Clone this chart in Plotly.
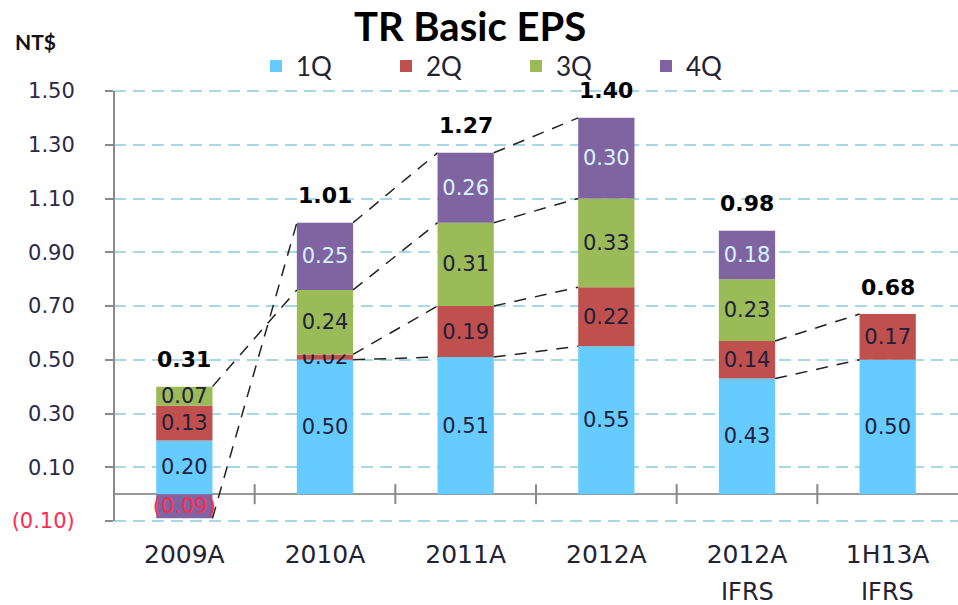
import plotly.graph_objects as go

# ---------------- data ----------------
CATEGORIES = ["2009A", "2010A", "2011A", "2012A", "2012A", "1H13A"]
SUBLABELS = ["", "", "", "", "IFRS", "IFRS"]
QUARTERS = ["1Q", "2Q", "3Q", "4Q"]
Q1 = [0.20, 0.50, 0.51, 0.55, 0.43, 0.50]
Q2 = [0.13, 0.02, 0.19, 0.22, 0.14, 0.17]
Q3 = [0.07, 0.24, 0.31, 0.33, 0.23, None]
Q4 = [-0.09, 0.25, 0.26, 0.30, 0.18, None]
TOTALS = ["0.31", "1.01", "1.27", "1.40", "0.98", "0.68"]
Y_TICKS = [-0.1, 0.1, 0.3, 0.5, 0.7, 0.9, 1.1, 1.3, 1.5]
Y_TICK_TEXT = ["(0.10)", "0.10", "0.30", "0.50", "0.70", "0.90", "1.10", "1.30", "1.50"]
# for each quarter: index i of bars joined (bar i -> bar i+1) by a dashed connector
LINKS = {"1Q": [1, 2, 4], "2Q": [1, 2, 4], "3Q": [0, 1, 2], "4Q": [0, 1, 2]}

# ---------------- styles / layout ----------------
COLORS = {"1Q": "#66CCFF", "2Q": "#C0504D", "3Q": "#9BBB59", "4Q": "#8064A2"}
LABEL_COLORS = {"1Q": "#20203a", "2Q": "#20203a", "3Q": "#20203a", "4Q": "#D4F4FF"}
NEG_LABEL_COLOR = "#FF2A50"
FONT = "DejaVu Sans"
BAR_W = 0.4
W, H = 958, 605
EDGE_PX = 2  # small pad so the edge gridlines are drawn
ML, MR, MT, MB = 114, 0, 91 - EDGE_PX, 84 - EDGE_PX
PLOT_W, PLOT_H = W - ML - MR, H - MT - MB
Y_LO, Y_HI = -0.1, 1.5
PAD = (Y_HI - Y_LO) / (PLOT_H - 2 * EDGE_PX) * EDGE_PX


def px_to_paper_x(px):
    return (px - ML) / PLOT_W


def px_to_paper_y(py):
    return (H - MB - py) / PLOT_H


SERIES = dict(zip(QUARTERS, [Q1, Q2, Q3, Q4]))
X = list(range(len(CATEGORIES)))


def fmt(v):
    if v is None:
        return ""
    return f"({abs(v):.2f})" if v < 0 else f"{v:.2f}"


fig = go.Figure()

for q in QUARTERS:
    vals = SERIES[q]
    fig.add_trace(go.Bar(
        x=X, y=vals, name=q, width=BAR_W,
        marker=dict(color=COLORS[q], line=dict(width=0)),
        text=[fmt(v) for v in vals],
        textposition="inside", insidetextanchor="middle", textangle=0,
        textfont=dict(family=FONT, size=21,
                      color=[NEG_LABEL_COLOR if (v is not None and v < 0) else LABEL_COLORS[q] for v in vals]),
        hoverinfo="skip",
    ))

# cumulative stack levels (relative barmode)
levels = {q: [] for q in QUARTERS}
pos_tops = []
for i in X:
    pos, neg = 0.0, 0.0
    for q in QUARTERS:
        v = SERIES[q][i]
        if v is None:
            levels[q].append(None)
            continue
        if v >= 0:
            pos += v
            levels[q].append(pos)
        else:
            neg += v
            levels[q].append(neg)
    pos_tops.append(pos)

# dashed connectors
for q in QUARTERS:
    lx, ly = [], []
    for i in LINKS[q]:
        lx += [X[i] + BAR_W / 2, X[i + 1] - BAR_W / 2, None]
        ly += [levels[q][i], levels[q][i + 1], None]
    fig.add_trace(go.Scatter(
        x=lx, y=ly, mode="lines", showlegend=False, hoverinfo="skip",
        line=dict(color="#222222", width=1.5, dash="12px,9px"),
    ))

# totals above bars
for i in X:
    fig.add_annotation(
        x=X[i], y=pos_tops[i], text=f"<b>{TOTALS[i]}</b>", showarrow=False,
        yshift=27, font=dict(family=FONT, size=22, color="#000000"),
    )

# sub labels (IFRS)
for i in X:
    if SUBLABELS[i]:
        fig.add_annotation(
            x=X[i], y=0, yref="paper", text=SUBLABELS[i], showarrow=False,
            yshift=-69, yanchor="middle", font=dict(family=FONT, size=24, color="#222233"),
        )

# category boundary tick marks crossing the zero line
for i in X[:-1]:
    fig.add_shape(
        type="line", xref="x", yref="y", x0=i + 0.5, x1=i + 0.5,
        ysizemode="pixel", yanchor=0, y0=-10, y1=10,
        line=dict(color="#888888", width=2),
    )

fig.add_annotation(
    x=px_to_paper_x(13), y=px_to_paper_y(42), xref="paper", yref="paper",
    xanchor="left", yanchor="middle",
    text="<b>NT$</b>", showarrow=False, font=dict(family="Lato", size=21, color="#111111"),
)

tick_text = [f'<span style="color:{NEG_LABEL_COLOR}">{t}</span>' if v < 0 else t
             for v, t in zip(Y_TICKS, Y_TICK_TEXT)]

fig.update_layout(
    width=W, height=H,
    margin=dict(l=ML, r=MR, t=MT, b=MB, autoexpand=False),
    paper_bgcolor="white", plot_bgcolor="white",
    barmode="relative",
    title=dict(text="<b>TR Basic EPS</b>", x=470 / W, xref="container", xanchor="center",
               y=1 - 27 / H, yref="container", yanchor="middle",
               font=dict(family="Lato", size=40, color="#000000")),
    legend=dict(orientation="h", xref="paper", yref="paper",
                x=px_to_paper_x(256), y=px_to_paper_y(66), xanchor="left", yanchor="middle",
                entrywidthmode="pixels", entrywidth=85,
                font=dict(family="Lato", size=26, color="#222233"),
                traceorder="normal", bgcolor="rgba(0,0,0,0)"),
    xaxis=dict(range=[-0.5, len(X) - 0.5], tickvals=X, ticktext=CATEGORIES,
               showgrid=False, zeroline=False, showline=False, ticks="",
               tickfont=dict(family=FONT, size=25, color="#222233"),
               ticklabelstandoff=14, automargin=False),
    yaxis=dict(range=[Y_LO - PAD, Y_HI + PAD], tickvals=Y_TICKS, ticktext=tick_text,
               showgrid=True, gridcolor="#A8D8E8", gridwidth=1.5, griddash="12px,7px",
               zeroline=True, zerolinecolor="#999999", zerolinewidth=2,
               showline=False,
               ticks="outside", ticklen=8, tickcolor="#8a8a8a", tickwidth=2,
               tickfont=dict(family=FONT, size=21, color="#2a2a48"),
               ticklabelstandoff=26, automargin=False),
    uniformtext=dict(minsize=21, mode="show"),
    showlegend=True,
)

# vertical y axis line spanning exactly the tick range
fig.add_shape(type="line", xref="paper", yref="y", x0=0, x1=0, y0=Y_LO, y1=Y_HI,
              line=dict(color="#8a8a8a", width=2))

fig.write_html(
    "out.html",
    config={"displayModeBar": False},
    post_script="document.body.style.margin='0';document.body.style.overflow='hidden';",
)
